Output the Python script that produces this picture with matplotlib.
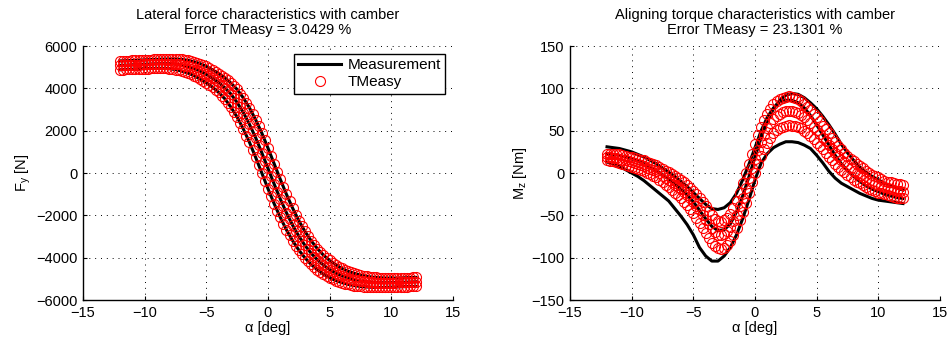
import matplotlib
matplotlib.use("Agg")
import matplotlib.pyplot as plt
from matplotlib.lines import Line2D

plt.rcParams['font.family'] = ['Liberation Sans', 'DejaVu Sans']
plt.rcParams['mathtext.default'] = 'regular'
plt.rcParams['axes.unicode_minus'] = True

# ---------------- data ----------------
# slip angle grid of the measurement lines
alpha_meas = [-12, -11.5, -11, -10.5, -10, -9.5, -9, -8.5, -8, -7.5, -7, -6.5, -6, -5.5, -5, -4.5,
              -4, -3.5, -3, -2.5, -2, -1.5, -1, -0.5, 0, 0.5, 1, 1.5, 2, 2.5, 3, 3.5, 4, 4.5,
              5, 5.5, 6, 6.5, 7, 7.5, 8, 8.5, 9, 9.5, 10, 10.5, 11, 11.5, 12]
# slip angle grid of the TMeasy points
alpha_model = [-12, -11.75, -11.5, -11.25, -11, -10.75, -10.5, -10.25, -10, -9.75, -9.5, -9.25,
               -9, -8.75, -8.5, -8.25, -8, -7.75, -7.5, -7.25, -7, -6.75, -6.5, -6.25, -6,
               -5.75, -5.5, -5.25, -5, -4.75, -4.5, -4.25, -4, -3.75, -3.5, -3.25, -3, -2.75,
               -2.5, -2.25, -2, -1.75, -1.5, -1.25, -1, -0.75, -0.5, -0.25, 0, 0.25, 0.5, 0.75,
               1, 1.25, 1.5, 1.75, 2, 2.25, 2.5, 2.75, 3, 3.25, 3.5, 3.75, 4, 4.25, 4.5, 4.75,
               5, 5.25, 5.5, 5.75, 6, 6.25, 6.5, 6.75, 7, 7.25, 7.5, 7.75, 8, 8.25, 8.5, 8.75,
               9, 9.25, 9.5, 9.75, 10, 10.25, 10.5, 10.75, 11, 11.25, 11.5, 11.75, 12]

# Lateral force Fy [N], measurement, three camber settings
fy_meas_top = [5300, 5310, 5320, 5335, 5350, 5365, 5375, 5385, 5390, 5390, 5370, 5330, 5260, 5170,
               5040, 4880, 4700, 4500, 4250, 3950, 3550, 3080, 2520, 1890, 1180, 440, -300, -1010,
               -1660, -2250, -2760, -3200, -3570, -3880, -4130, -4340, -4510, -4640, -4740, -4820,
               -4880, -4920, -4945, -4960, -4965, -4960, -4950, -4940, -4930]
fy_meas_mid = [5090, 5100, 5115, 5130, 5145, 5155, 5165, 5170, 5170, 5150, 5110, 5040, 4950, 4820,
               4660, 4480, 4280, 4030, 3730, 3330, 2860, 2300, 1670, 960, 220, -520, -1230, -1880,
               -2470, -2980, -3420, -3790, -4100, -4350, -4560, -4730, -4860, -4960, -5040, -5100,
               -5140, -5165, -5180, -5185, -5180, -5170, -5160, -5150, -5140]
fy_meas_bot = [4880, 4895, 4910, 4925, 4935, 4945, 4950, 4950, 4930, 4890, 4820, 4730, 4600, 4440,
               4260, 4060, 3810, 3510, 3110, 2640, 2080, 1450, 740, 0, -740, -1450, -2100, -2690,
               -3200, -3640, -4010, -4320, -4570, -4780, -4950, -5080, -5180, -5260, -5320, -5360,
               -5385, -5400, -5405, -5400, -5390, -5380, -5370, -5360, -5355]

# Lateral force Fy [N], TMeasy
fy_model_top = [5300, 5305, 5310, 5315, 5320, 5328, 5335, 5342, 5350, 5358,
                5365, 5370, 5375, 5380, 5385, 5388, 5390, 5391, 5390, 5382,
                5370, 5352, 5330, 5298, 5260, 5217, 5170, 5108, 5040, 4963,
                4880, 4792, 4700, 4602, 4500, 4378, 4250, 4105, 3950, 3755,
                3550, 3320, 3080, 2805, 2520, 2210, 1890, 1540, 1180, 810,
                440, 70, -300, -660, -1010, -1340, -1660, -1960, -2250, -2510,
                -2760, -2985, -3200, -3390, -3570, -3730, -3880, -4010, -4130, -4240,
                -4340, -4430, -4510, -4580, -4640, -4693, -4740, -4782, -4820, -4852,
                -4880, -4902, -4920, -4935, -4945, -4953, -4960, -4963, -4965, -4963,
                -4960, -4955, -4950, -4945, -4940, -4935, -4930]
fy_model_mid = [5090, 5095, 5100, 5108, 5115, 5122, 5130, 5138,
                5145, 5150, 5155, 5160, 5165, 5168, 5170, 5171, 5170, 5162,
                5150, 5132, 5110, 5078, 5040, 4997, 4950, 4888, 4820, 4743,
                4660, 4572, 4480, 4382, 4280, 4158, 4030, 3885, 3730, 3535,
                3330, 3100, 2860, 2585, 2300, 1990, 1670, 1320, 960, 590,
                220, -150, -520, -880, -1230, -1560, -1880, -2180, -2470, -2730, -2980,
                -3205, -3420, -3610, -3790, -3950, -4100, -4230, -4350, -4460, -4560,
                -4650, -4730, -4800, -4860, -4913, -4960, -5002, -5040, -5072, -5100,
                -5122, -5140, -5155, -5165, -5173, -5180, -5183, -5185, -5183, -5180,
                -5175, -5170, -5165, -5160, -5155, -5150, -5145, -5140]
fy_model_bot = [4880, 4888, 4895, 4902, 4910, 4918,
                4925, 4930, 4935, 4940, 4945, 4948, 4950, 4951, 4950, 4942,
                4930, 4912, 4890, 4858, 4820, 4777, 4730, 4668, 4600, 4523,
                4440, 4352, 4260, 4162, 4060, 3938, 3810, 3665, 3510, 3315,
                3110, 2880, 2640, 2365, 2080, 1770, 1450, 1100, 740, 370,
                0, -370, -740, -1100, -1450, -1780, -2100, -2400, -2690, -2950,
                -3200, -3425, -3640, -3830, -4010, -4170, -4320, -4450, -4570, -4680,
                -4780, -4870, -4950, -5020, -5080, -5133, -5180, -5222, -5260, -5292,
                -5320, -5342, -5360, -5375, -5385, -5393, -5400, -5403, -5405, -5403,
                -5400, -5395, -5390, -5385, -5380, -5375, -5370, -5365, -5360, -5357, -5355]

# Aligning torque Mz [Nm], measurement
mz_meas_a = [31, 30, 29, 27, 25, 22, 19, 15, 11, 6, 1, -4, -10, -16, -23, -30, -37, -42, -43,
             -41, -35, -24, -8, 10, 30, 50, 66, 77, 84, 86, 86, 83, 77, 68, 57, 45, 33, 21, 11,
             3, -4, -10, -15, -19, -22, -25, -27, -29, -30]
mz_meas_b = [23, 22, 21, 19, 17, 14, 11, 7, 3, -2, -7, -13, -19, -26, -34, -44, -54, -63, -68,
             -67, -60, -46, -27, -5, 19, 42, 61, 76, 86, 92, 94, 93, 89, 83, 76, 67, 57, 46, 34,
             24, 15, 7, 1, -4, -8, -12, -15, -18, -20]
mz_meas_c = [13, 11, 8, 4, 0, -4, -9, -15, -21, -27, -33, -42, -51, -61, -73, -88, -98, -104,
             -104, -98, -88, -73, -54, -32, -8, 12, 23, 30, 34, 37, 37, 36, 33, 29, 21, 12, 2,
             -6, -12, -16, -20, -24, -27, -30, -32, -33, -34, -35, -36]

# Aligning torque Mz [Nm], TMeasy
mz_model_a = [23, 22.5, 22, 22, 22, 21, 20, 19.5, 19, 18, 17, 16, 15, 13.5, 12, 10.5, 9,
              7, 5, 3, 1.5, -1, -3, -5.5, -8, -11, -14, -17.5, -21, -25, -29.5, -34.5, -39.5,
              -45, -50, -54, -57, -57.5, -56, -53, -48,
              -41, -33, -23, -12, 0, 11, 23, 34, 45, 54, 63, 70, 76, 81, 85, 87, 89, 90, 90.5,
              90, 89, 87, 85, 82, 78, 74, 70, 66, 61, 56, 51.5, 47, 42, 37, 32.5, 28, 24, 20,
              17, 14, 11, 8, 5.5, 3, 0.5, -2, -3.5, -5, -7, -9, -10, -11, -12, -13, -13.5, -14]
mz_model_b = [19, 18.5, 18, 17.5, 17, 16, 15, 14, 13, 12, 11, 9.5, 8, 6.5, 5, 3.5, 2,
              -0.5, -3, -5.5, -8, -11, -14, -16.5, -19, -22.5, -26, -30, -34, -39, -44, -49.5,
              -55, -60.5, -65.5, -70, -73, -73.5, -72, -69, -64,
              -57, -49, -39.5, -29, -17.5, -6, 5.5, 17, 27.5, 37, 45.5, 53, 59, 64, 67.5, 70,
              72, 73, 73.5, 73, 72, 71, 68.5, 66, 62.5, 59, 55, 51, 46.5, 42, 37.5, 33, 28.5,
              24, 20, 16, 12.5, 9, 6, 3, 0.5, -2, -4.5, -7, -9, -11, -12.5, -14, -15.5, -17,
              -18, -19, -20, -21, -21.5, -22]
mz_model_c = [15, 14.5, 14, 13, 12, 11, 10, 8.5, 7, 6, 5, 3.5, 2, 0.5, -1, -3, -5,
              -8, -11, -14, -17, -20, -23, -26.5, -30, -34, -38, -42.5, -47.5, -53, -59, -65,
              -71, -77, -82.5, -86.5, -89, -89.5, -88, -85, -80,
              -73, -65, -56, -46, -35, -23, -11, 0, 10.5, 20, 28.5, 36, 42, 47, 50.5, 53, 55,
              56, 56.5, 56, 55.5, 55, 53, 50, 47, 44, 40, 36, 32, 28, 23.5, 19, 15, 11, 7.5, 4,
              1, -2, -5, -8, -10, -12, -14.5, -17, -18.5, -20, -21.5, -23, -24, -25, -26, -27,
              -28, -29, -29.5, -30]

fy_meas = [fy_meas_top, fy_meas_mid, fy_meas_bot]
fy_model = [fy_model_top, fy_model_mid, fy_model_bot]
mz_meas = [mz_meas_a, mz_meas_b, mz_meas_c]
mz_model = [mz_model_a, mz_model_b, mz_model_c]

x_ticks = [-15, -10, -5, 0, 5, 10, 15]
fy_ticks = [-6000, -4000, -2000, 0, 2000, 4000, 6000]
mz_ticks = [-150, -100, -50, 0, 50, 100, 150]

titles = ["Lateral force characteristics with camber\nError TMeasy = 3.0429 %",
          "Aligning torque characteristics with camber\nError TMeasy = 23.1301 %"]
ylabels = ["F$_y$ [N]", "M$_z$ [Nm]"]
xlabel = "\u03b1 [deg]"
legend_labels = ["Measurement", "TMeasy"]

# ---------------- figure ----------------
FS = 10.5
MS = 7.2
fig = plt.figure(figsize=(9.51, 3.45), dpi=100)
ax1 = fig.add_axes([0.0873, 0.1304, 0.389, 0.736])
ax2 = fig.add_axes([0.5994, 0.1304, 0.389, 0.736])


def style(ax, yticks, title, ylabel):
    ax.set_xlim(-15, 15)
    ax.set_ylim(yticks[0], yticks[-1])
    ax.set_xticks(x_ticks)
    ax.set_yticks(yticks)
    ax.spines['top'].set_visible(False)
    ax.spines['right'].set_visible(False)
    for s in ('left', 'bottom'):
        ax.spines[s].set_linewidth(1.0)
    ax.tick_params(direction='in', length=3, width=0.8, labelsize=FS,
                   top=False, right=False, pad=4)
    ax.grid(True, linestyle=(0, (1, 5)), color='k', linewidth=0.7)
    ax.set_axisbelow(True)
    ax.set_title(title, fontsize=FS, pad=9, linespacing=1.05)
    ax.set_xlabel(xlabel, fontsize=FS, labelpad=1)
    ax.set_ylabel(ylabel, fontsize=FS, labelpad=2)


for ax, meas, model in ((ax1, fy_meas, fy_model), (ax2, mz_meas, mz_model)):
    for y in meas:
        ax.plot(alpha_meas, y, color='k', linewidth=2.2, zorder=2)
    for y in model:
        ax.plot(alpha_model, y, linestyle='none', marker='o', markersize=MS,
                markerfacecolor='none', markeredgecolor='red', markeredgewidth=0.8,
                zorder=3)

style(ax1, fy_ticks, titles[0], ylabels[0])
style(ax2, mz_ticks, titles[1], ylabels[1])

handles = [Line2D([], [], color='k', linewidth=2.2),
           Line2D([], [], linestyle='none', marker='o', markersize=MS,
                  markerfacecolor='none', markeredgecolor='red', markeredgewidth=0.8)]
leg = ax1.legend(handles, legend_labels, loc='upper right', fontsize=FS + 0.5,
                 fancybox=False, framealpha=1, edgecolor='k', borderaxespad=0.5,
                 handlelength=2.8, handletextpad=0.4, borderpad=0.3, labelspacing=0.2)
leg.get_frame().set_linewidth(1.0)

fig.savefig("out.png", dpi=100)
